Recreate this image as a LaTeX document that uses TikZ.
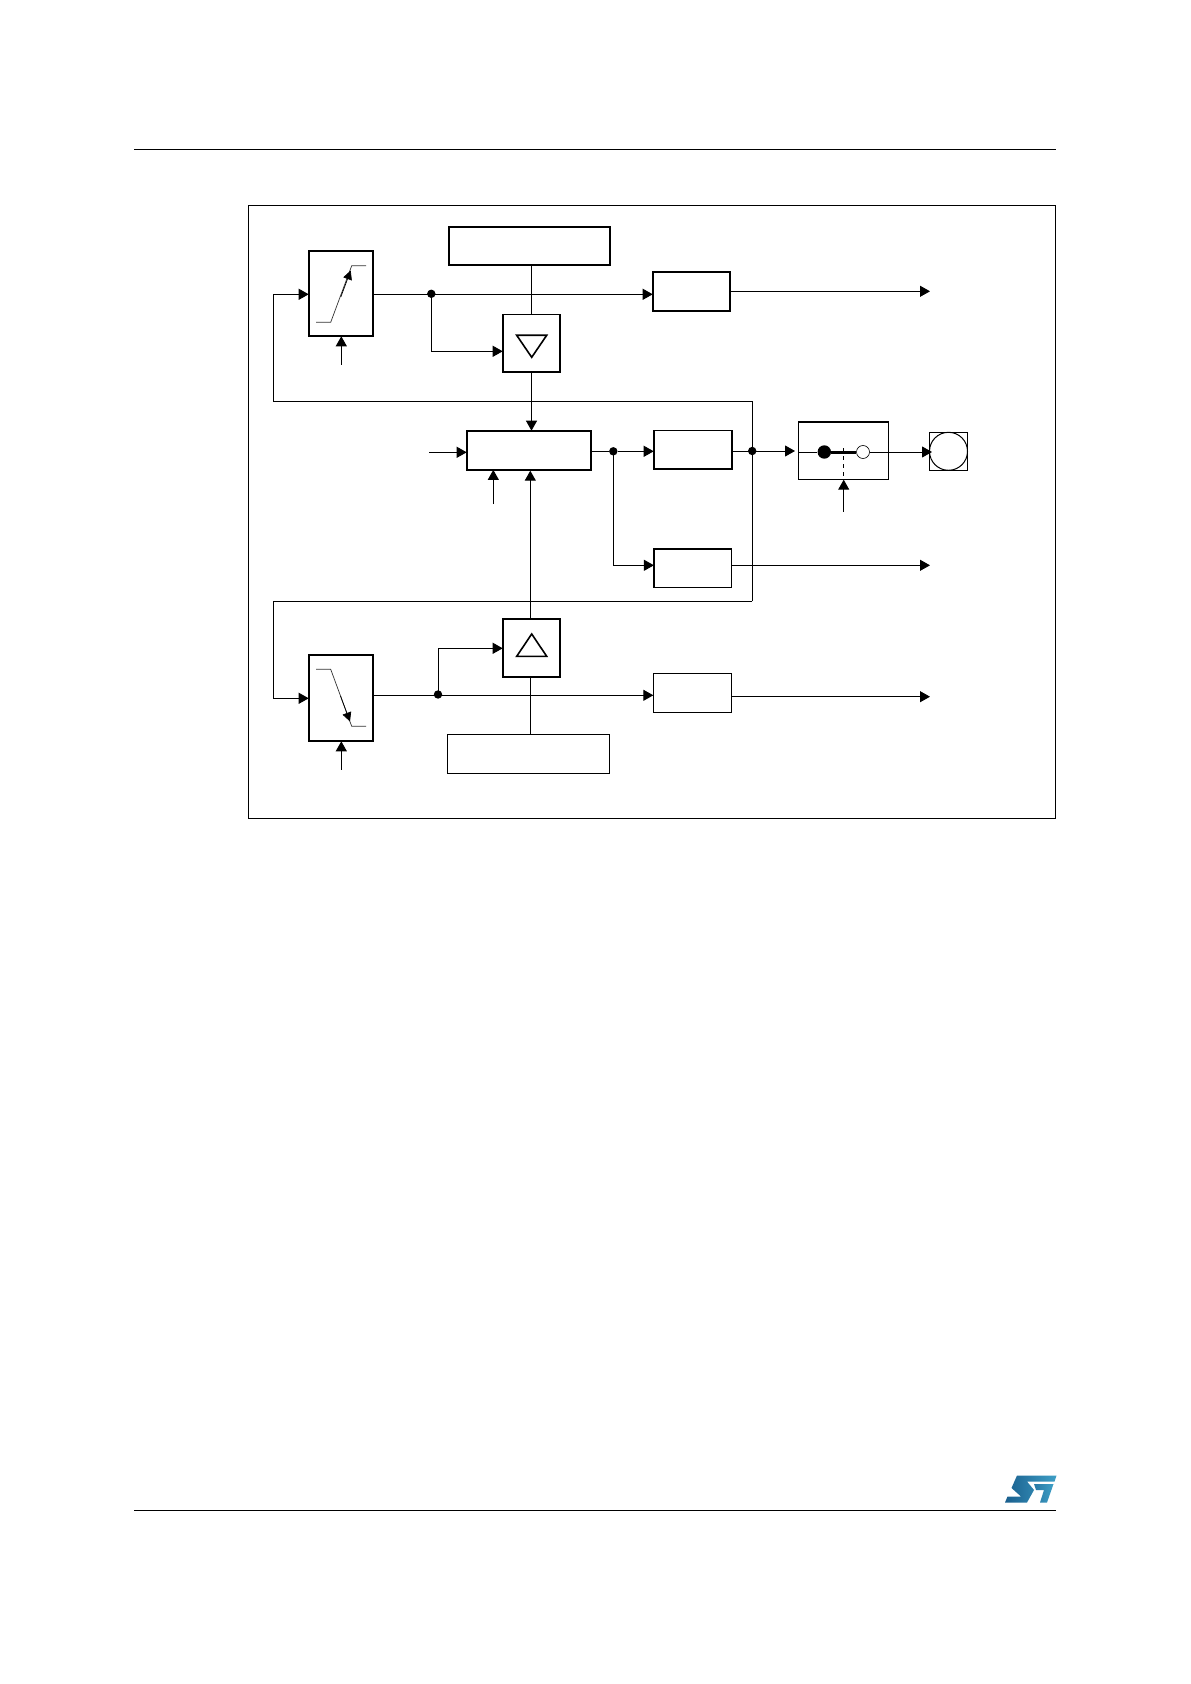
\documentclass[tikz,border=0pt]{standalone}
\usepackage{xcolor}
\usepackage{tikz}
\usetikzlibrary{positioning, arrows.meta}

\definecolor{logodark}{HTML}{1A5F8E}
\definecolor{logolight}{HTML}{3E9FC6}

\begin{document}
\begin{tikzpicture}[
    x=0.5pt, y=-0.5pt,
    blockbox/.style={
        rectangle,
        draw=black,
        line width=0.85pt,
        inner sep=0pt,
        outer sep=0pt
    },
    arrow/.style={line width=0.5pt,-{Triangle[length=5pt,width=5.5pt]}},
    wire/.style={line width=0.5pt},
    junction/.style={circle, fill=black, inner sep=0pt, minimum size=4.2pt},
    ramp/.style={line width=0.35pt, black!80},
    rampmark/.style={line width=0.35pt, black, -{Triangle[length=4.5pt,width=4.5pt]}}
]
\useasboundingbox (0,0) rectangle (1190,1684);
\fill[white] (0,0) rectangle (1190,1684);

% Page rules and frame
\draw[wire] (134,149.5) -- (1056,149.5);
\draw[wire] (134,1510.3) -- (1056,1510.3);
\draw[wire] (248.3,205.3) rectangle (1055.8,818.3);

% Nodes
\node (pwmhi) [blockbox, minimum width=80.8pt, minimum height=19.2pt] at (529.5,245.9) {};
\node (rise) [blockbox, minimum width=32.3pt, minimum height=42.8pt] at (341,293.5) {};
\node (outa) [blockbox, minimum width=38.8pt, minimum height=19.6pt] at (691.5,291.3) {};
\node (tridn) [blockbox, minimum width=28.8pt, minimum height=28.7pt] at (531.5,343.3) {};
\node (core) [blockbox, minimum width=62.3pt, minimum height=19.6pt] at (529,450.3) {};
\node (outb) [blockbox, minimum width=39pt, minimum height=19.2pt] at (692.7,449.8) {};
\node (outc) [blockbox, minimum width=38.8pt, minimum height=19.2pt] at (692.7,568.2) {};
\node (switch) [blockbox, line width=0.75pt, minimum width=45pt, minimum height=28.9pt] at (843.7,450.8) {};
\node (pad) [draw, line width=0.5pt, inner sep=0pt, outer sep=0pt, minimum width=19.2pt, minimum height=19pt] at (948.5,451.3) {};
\node (padring) [circle, draw, line width=0.5pt, inner sep=0pt, minimum size=19pt] at (948.5,451.3) {};
\node (trup) [blockbox, minimum width=28.8pt, minimum height=29.3pt] at (531.5,648) {};
\node (fall) [blockbox, minimum width=32.3pt, minimum height=43.3pt] at (341,698) {};
\node (pwmlo) [blockbox, line width=0.75pt, minimum width=80.8pt, minimum height=19.3pt] at (528.5,754) {};
\node (outd) [blockbox, line width=0.75pt, minimum width=39.2pt, minimum height=19.3pt] at (692.5,693) {};

% Junctions
\node (jhi) [junction] at (431.3,293.8) {};
\node (jcore) [junction] at (613.3,451.3) {};
\node (jout) [junction] at (752.2,451) {};
\node (jlo) [junction] at (438,694.5) {};
\node (swa) [circle, fill=black, inner sep=0pt, minimum size=6.7pt] at (824.3,452) {};
\node (swb) [circle, draw, fill=white, line width=0.3pt, inner sep=0pt, minimum size=6.5pt] at (863,452) {};

% Free ends and bends
\coordinate (fbtl) at (273.3,294.3);
\coordinate (fbtm) at (273.3,401.3);
\coordinate (fbtr) at (752.3,401.3);
\coordinate (fbbr) at (752.3,601.3);
\coordinate (fbbl) at (273.3,601.3);
\coordinate (fbbe) at (273.3,698.3);
\coordinate (riseen) at (341.3,364.7);
\coordinate (fallen) at (341.3,769.7);
\coordinate (corein) at (429,452.3);
\coordinate (coreen) at (493.3,504);
\coordinate (swen) at (843.7,511.7);
\coordinate (swin) at (795,451);
\coordinate (padin) at (932,452);
\coordinate (exita) at (930,291.3);
\coordinate (exitc) at (930,565.3);
\coordinate (exitd) at (930,696.7);
\coordinate (uptop) at (530.3,470.7);
\coordinate (uplow) at (530.3,618.7);
\coordinate (loup) at (530.3,677.3);

% Arrows
\draw [wire] (rise.east |- fbtl) -- (jhi.center |- fbtl);
\draw [arrow] (jhi.center |- fbtl) -- (outa.west |- fbtl);
\draw [arrow] (jhi.center) |- (tridn.west |- 0,351.3);
\draw [wire] (pwmhi.south -| tridn.center) -- (tridn.north);
\draw [arrow] (tridn.south) -- (core.north -| tridn.center);
\draw [arrow] (fbtr) -- (fbtm) -- (fbtl) -- (rise.west |- fbtl);
\draw [wire] (fbtr) -- (fbbr);
\draw [arrow] (fbbr) -- (fbbl) -- (fbbe) -- (fall.west |- fbbe);
\draw [arrow] (riseen) -- (rise.south -| riseen);
\draw [arrow] (fallen) -- (fall.south -| fallen);
\draw [arrow] (corein) -- (core.west |- corein);
\draw [arrow] (coreen) -- (core.south -| coreen);
\draw [wire] (core.east |- jcore) -- (jcore);
\draw [arrow] (jcore) -- (outb.west |- jcore);
\draw [arrow] (jcore.center) |- (outc.west |- exitc);
\draw [arrow] (outa.east |- exita) -- (exita);
\draw [arrow] (outc.east |- exitc) -- (exitc);
\draw [arrow] (outd.east |- exitd) -- (exitd);
\draw [arrow] (outb.east |- jout) -- (swin);
\draw [wire] (switch.west |- swa) -- (swa);
\draw [line width=1.5pt] (swa) -- (swb);
\draw [arrow] (swb) -- (padin);
\draw [wire, dash pattern=on 2pt off 2pt] (843.7,448) -- (switch.south -| swen);
\draw [arrow] (swen) -- (switch.south -| swen);
\draw [arrow] (uplow) -- (uptop);
\draw [wire] (pwmlo.north -| loup) -- (loup);
\draw [wire] (rise.east |- 0,695.3) -- (jlo.center |- 0,695.3);
\draw [arrow] (jlo.center |- 0,695.3) -- (outd.west |- 0,695.3);
\draw [arrow] (jlo.center) |- (trup.west |- 0,648.3);

% Ramp and triangle symbols
\draw [ramp] (316,322.3) -- (330.7,322.3) -- (351.7,265.7) -- (366,265.7);
\draw [rampmark] (340.8,297) -- (350.7,270.5);
\draw [ramp] (316,669.3) -- (330.7,669.3) -- (351.7,726.3) -- (366,726.3);
\draw [rampmark] (340.5,696) -- (350,721.5);
\draw [line width=0.8pt] (516.7,335.3) -- (546.7,335.3) -- (531.7,357.3) -- cycle;
\draw [line width=0.8pt] (516.7,656.3) -- (546.7,656.3) -- (531.7,634) -- cycle;

% Logo
\shade [left color=logodark, right color=logolight] (1017,1475.5) -- (1056.5,1475.5) -- (1054.5,1481.5) -- (1027,1481.5) -- (1034,1490) -- (1027,1502.5) -- (1005,1502.5) -- (1007.5,1496.5) -- (1021,1496.5) -- (1011.5,1488) -- cycle;
\shade [left color=logodark!60!logolight, right color=logolight] (1034,1484) -- (1053.5,1484) -- (1047,1502.5) -- (1040,1502.5) -- (1044,1490) -- (1036,1490) -- cycle;

\end{tikzpicture}
\end{document}
